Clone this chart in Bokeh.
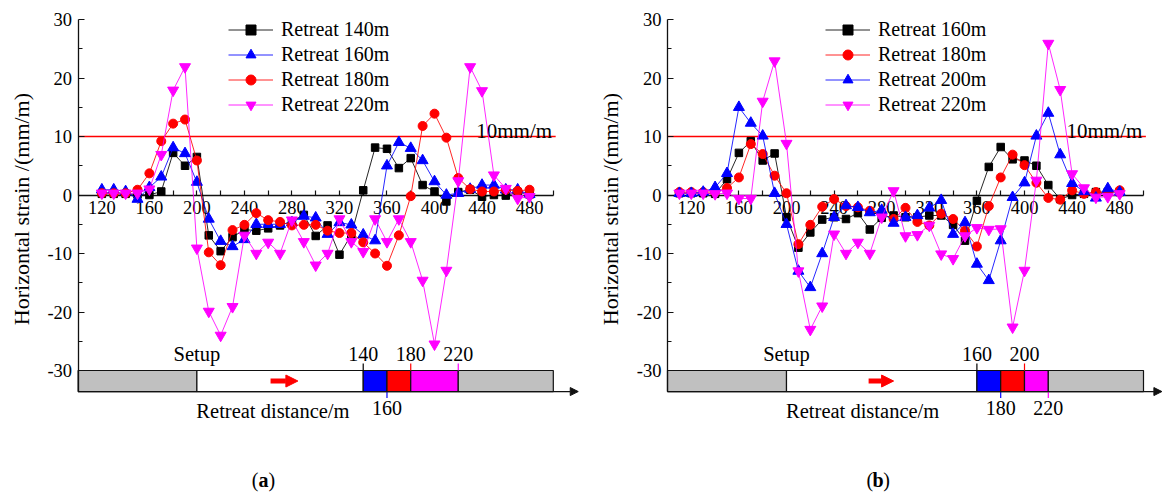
import math
from bokeh.plotting import figure
from bokeh.models import Range1d, FixedTicker, Legend, LegendItem, Arrow, NormalHead
from bokeh.layouts import row
from bokeh.embed import file_html
from bokeh.resources import INLINE
from bokeh.core.properties import value

FONT = "Liberation Serif"

# ---------------- data: panel (a) ----------------
A_X = [120, 130, 140, 150, 160, 170, 180, 190, 200, 210, 220, 230, 240, 250, 260, 270, 280, 290, 300,
       310, 320, 330, 340, 350, 360, 370, 380, 390, 400, 410, 420, 430, 440, 450, 460, 470, 480]
A_140 = [0.2, 0.2, 0.2, 0.1, 0.0, 0.6, 7.2, 5.0, 6.5, -6.9, -9.6, -7.2, -5.9, -6.1, -5.7, -5.2, -4.5, -3.4, -7.0,
         -5.2, -10.2, -6.8, 0.8, 8.1, 7.9, 4.6, 6.3, 1.7, 0.6, -1.1, 0.5, 0.9, -0.3, 0.0, -0.1, 0.5, 0.1]
A_160 = [0.9, 0.9, 0.6, -0.7, 1.3, 3.1, 8.1, 7.1, 2.2, -4.1, -7.9, -8.8, -7.6, -5.0, -5.0, -5.0, -4.7, -3.6, -3.9,
         -6.7, -4.7, -5.1, -6.8, -7.8, 5.0, 9.0, 8.0, 5.9, 2.3, 0.0, 0.3, 1.0, 1.7, 1.7, 0.9, 0.9, 0.1]
A_180 = [0.3, 0.3, 0.3, 0.9, 3.7, 9.2, 12.2, 12.9, 5.9, -9.8, -12.0, -6.0, -5.1, -3.1, -4.3, -4.6, -5.2, -5.1, -5.1,
         -6.1, -6.5, -6.5, -8.1, -10.0, -12.1, -6.9, -0.2, 11.8, 13.9, 9.8, 2.9, 1.0, 0.6, 0.6, 0.9, 0.7, 0.9]
A_220 = [0.3, 0.3, 0.3, 0.3, 1.0, 6.9, 17.9, 21.9, -9.1, -19.9, -24.0, -19.1, -6.9, -10.0, -8.1, -10.0, -4.3, -8.0, -12.0,
         -10.0, -4.1, -8.0, -9.7, -4.1, -8.0, -4.1, -8.0, -14.6, -25.5, -12.9, 2.4, 21.9, 17.8, 3.4, 1.1, -0.6, -0.3]
A_RETREATS = [140, 160, 180, 220]
A_LABEL_SIDE = ["above", "below", "above", "above"]

# ---------------- data: panel (b) ----------------
B_X = [110, 120, 130, 140, 150, 160, 170, 180, 190, 200, 210, 220, 230, 240, 250, 260, 270, 280, 290, 300,
       310, 320, 330, 340, 350, 360, 370, 380, 390, 400, 410, 420, 430, 440, 450, 460, 470, 480]
B_160 = [0.3, 0.3, 0.3, 0.2, 2.7, 7.2, 9.2, 5.9, 7.1, -3.8, -9.0, -6.4, -4.2, -3.8, -4.1, -3.1, -5.9, -3.9, -3.5, -3.8,
         -3.8, -3.5, -3.5, -5.1, -7.8, -1.0, 4.8, 8.2, 6.1, 5.9, 5.0, 1.7, -0.7, 0.0, 0.2, 0.5, 0.5, 0.5]
B_180 = [0.5, 0.5, 0.5, 0.5, 1.2, 3.0, 8.7, 7.0, 3.3, 0.3, -8.4, -5.1, -2.0, -0.7, -1.9, -2.1, -2.7, -3.2, -4.1, -2.2,
         -4.6, -5.2, -3.2, -4.1, -6.1, -8.8, -1.9, 3.0, 6.9, 5.1, 2.1, -0.5, -0.8, 0.8, 0.2, 0.5, 0.3, 0.8]
B_200 = [0.3, 0.3, 0.5, 1.3, 3.7, 15.0, 12.3, 10.1, 0.3, -5.0, -13.0, -15.8, -10.0, -3.8, -1.8, -2.1, -3.0, -2.6, -4.8, -3.8,
         -3.5, -2.2, -0.9, -6.7, -4.7, -11.8, -14.6, -7.8, -0.4, 2.1, 10.1, 14.0, 6.9, 2.0, 0.6, -0.5, 1.1, 0.5]
B_220 = [0.3, 0.3, 0.3, 0.2, 0.3, -0.6, -0.6, 16.0, 22.9, 8.8, -13.0, -23.0, -19.0, -6.7, -10.0, -8.1, -10.0, -3.8, 0.7, -7.0,
         -6.8, -5.2, -10.1, -10.9, -7.0, -5.6, -5.9, -5.8, -22.6, -12.9, 2.5, 25.9, 18.0, 3.6, 1.2, -0.4, -0.3, 0.2]
B_RETREATS = [160, 180, 200, 220]
B_LABEL_SIDE = ["above", "below", "above", "below"]

Y_TICKS = [-30, -20, -10, 0, 10, 20, 30]
Y_MINOR = [-25, -15, -5, 5, 15, 25]
X_TICKS = [120, 160, 200, 240, 280, 320, 360, 400, 440, 480]
X_MINOR = [100, 140, 180, 220, 260, 300, 340, 380, 420, 460, 500]

SETUP = 200
X_MIN, X_MAX = 100, 500
THRESHOLD = 10

# ---------------- geometry / style ----------------
PX_PER_Y = 5.85
FRAME_H = 496
Y_AXIS_TOP = 30.0
Y_TOP = Y_AXIS_TOP + 19 / PX_PER_Y
Y_BOT = Y_TOP - FRAME_H / PX_PER_Y
BAR_TOP, BAR_BOT = -30.0, -33.6
GRAY = "#C0C0C0"
SEG_COLORS = ["#0000FF", "#FF0000", "#FF00FF"]
TICK_COLORS = ["#000000", "#0000FF", "#FF0000", "#FF00FF"]
AXIS_COLOR = "#111111"


def style_axes(p):
    for ax in (p.xaxis[0], p.yaxis[0]):
        ax.axis_line_color = AXIS_COLOR
        ax.axis_line_width = 1.3
        ax.major_tick_line_color = AXIS_COLOR
        ax.minor_tick_line_color = AXIS_COLOR
        ax.major_tick_line_width = 1.2
        ax.minor_tick_line_width = 1.2
        ax.major_tick_out = 0
        ax.minor_tick_out = 0
        ax.major_label_text_font = FONT
        ax.major_label_text_font_size = "18.5px"
        ax.major_label_text_color = "#000000"
    xa = p.xaxis[0]
    xa.fixed_location = 0
    xa.bounds = (X_MIN, X_MAX)
    xa.ticker = FixedTicker(ticks=X_TICKS, minor_ticks=X_MINOR)
    xa.major_tick_in = 5
    xa.minor_tick_in = 5
    xa.major_label_standoff = 6
    xa.level = "underlay"
    ya = p.yaxis[0]
    ya.fixed_location = X_MIN
    ya.bounds = (BAR_BOT, Y_AXIS_TOP)
    ya.ticker = FixedTicker(ticks=Y_TICKS, minor_ticks=Y_MINOR)
    ya.major_label_overrides = {t: str(t) for t in Y_TICKS}
    ya.major_tick_in = 6
    ya.minor_tick_in = 4
    ya.major_label_standoff = 6


def txt(p, x, y, s, size="20px", align="center", baseline="middle", **kw):
    p.text(x=[x], y=[y], text=[s], text_align=align, text_baseline=baseline,
           text_font=value(FONT), text_font_size=size, text_color="black", **kw)


def build(xs, series, retreats, sides, width, axis_px, px_per_x, legend_vx, dir_arrow, arrow_end,
          caption, caption_x):
    x_start = X_MIN - axis_px / px_per_x
    x_end = x_start + width / px_per_x
    p = figure(frame_width=width, frame_height=FRAME_H,
               x_range=Range1d(x_start, x_end), y_range=Range1d(Y_BOT, Y_TOP),
               output_backend="svg", toolbar_location=None,
               min_border_left=0, min_border_right=0, min_border_top=0, min_border_bottom=0)
    p.outline_line_color = None
    p.grid.visible = False
    p.background_fill_color = "white"
    style_axes(p)

    # bottom bar
    edges = [SETUP + r for r in retreats]
    lefts = [X_MIN, SETUP] + edges[:-1] + [edges[-1]]
    rights = [SETUP, edges[0]] + edges[1:] + [X_MAX]
    cols = [GRAY, "white"] + SEG_COLORS + [GRAY]
    p.quad(left=lefts, right=rights, bottom=BAR_BOT, top=BAR_TOP,
           fill_color=cols, line_color=AXIS_COLOR, line_width=1.2)
    p.add_layout(Arrow(x_start=X_MIN, y_start=BAR_BOT, x_end=min(arrow_end, x_end - 0.5), y_end=BAR_BOT,
                       line_color=AXIS_COLOR, line_width=1.3,
                       end=NormalHead(size=8, fill_color=AXIS_COLOR, line_color=AXIS_COLOR)))
    p.add_layout(Arrow(x_start=dir_arrow[0], y_start=-31.8, x_end=dir_arrow[1], y_end=-31.8,
                       line_color="#FF0000", line_width=5,
                       end=NormalHead(size=12, fill_color="#FF0000", line_color="#FF0000", line_width=1)))
    # retreat labels
    for r, side, tc in zip(retreats, sides, TICK_COLORS):
        xe = SETUP + r
        if side == "above":
            p.segment(x0=[xe], y0=[BAR_TOP], x1=[xe], y1=[-28.8], line_color=tc, line_width=1.2)
            txt(p, xe, -27.1, str(r))
        else:
            p.segment(x0=[xe], y0=[BAR_BOT], x1=[xe], y1=[-34.7], line_color=tc, line_width=1.2)
            txt(p, xe, -36.4, str(r))
    txt(p, SETUP, -27.1, "Setup", size="20.5px")
    txt(p, 264, -36.9, "Retreat distance/m", size="20.5px")

    # threshold
    p.segment(x0=[X_MIN], y0=[THRESHOLD], x1=[502], y1=[THRESHOLD], line_color="#FF0000", line_width=1.5)
    txt(p, 499, 11.0, "10mm/m", size="21px", align="right", baseline="alphabetic")

    # series
    items = []
    for label, ys, color, marker, size in series:
        lr = p.line(xs, ys, line_color=color, line_width=1, line_alpha=0.85)
        sr = p.scatter(xs, ys, marker=marker, size=size, fill_color=color, line_color=color)
        items.append(LegendItem(label=label, renderers=[lr, sr]))
    leg = Legend(items=items, location=(legend_vx, FRAME_H - 17 - 100), orientation="vertical",
                 glyph_width=45, glyph_height=25, label_height=25, label_standoff=8,
                 spacing=0, padding=0, margin=0, border_line_color=None,
                 background_fill_alpha=0, label_text_font=FONT, label_text_font_size="20px",
                 label_text_color="black")
    p.add_layout(leg)

    # y axis title
    txt(p, X_MIN - 57 / px_per_x, -2.4, "Horizontal strain /(mm/m)", size="22px", angle=math.pi / 2)

    # caption
    cy = -48.8
    txt(p, caption_x, cy, "(", align="right", x_offset=-5)
    txt(p, caption_x, cy, caption, text_font_style="bold")
    txt(p, caption_x, cy, ")", align="left", x_offset=5)
    return p


pa = build(A_X,
           [("Retreat 140m", A_140, "#000000", "square", 7.5),
            ("Retreat 160m", A_160, "#0000FF", "triangle", 11),
            ("Retreat 180m", A_180, "#FF0000", "circle", 9),
            ("Retreat 220m", A_220, "#FF00FF", "inverted_triangle", 11)],
           A_RETREATS, A_LABEL_SIDE, width=596, axis_px=77.6, px_per_x=1.188,
           legend_vx=228, dir_arrow=(262, 285), arrow_end=521, caption="a", caption_x=256)

pb = build(B_X,
           [("Retreat 160m", B_160, "#000000", "square", 7.5),
            ("Retreat 180m", B_180, "#FF0000", "circle", 9),
            ("Retreat 200m", B_200, "#0000FF", "triangle", 11),
            ("Retreat 220m", B_220, "#FF00FF", "inverted_triangle", 11)],
           B_RETREATS, B_LABEL_SIDE, width=566, axis_px=71, px_per_x=1.19,
           legend_vx=229, dir_arrow=(269, 290), arrow_end=521, caption="b", caption_x=277)

layout = row(pa, pb)
open("out.html", "w").write(file_html(layout, INLINE))
